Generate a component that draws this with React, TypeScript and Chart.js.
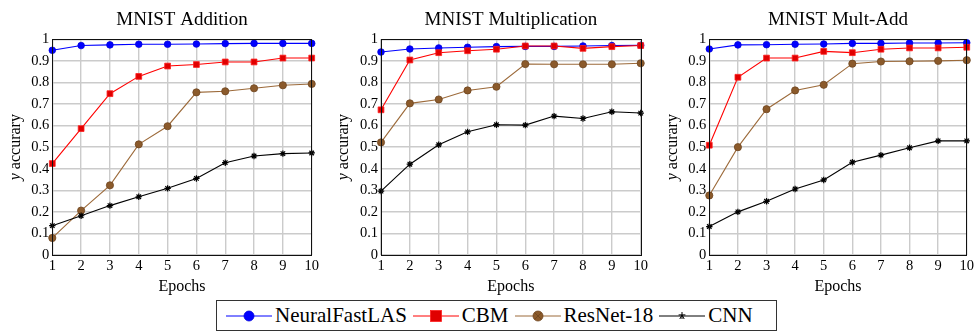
import React, { useEffect, useRef } from "react";
import { Chart, registerables } from "chart.js";
Chart.register(...registerables);

const epochs = [1, 2, 3, 4, 5, 6, 7, 8, 9, 10];
const yTicks = [0, 0.1, 0.2, 0.3, 0.4, 0.5, 0.6, 0.7, 0.8, 0.9, 1];
const seriesNames = ["NeuralFastLAS", "CBM", "ResNet-18", "CNN"];
const panelTitles = ["MNIST Addition", "MNIST Multiplication", "MNIST Mult-Add"];

// MNIST Addition
const addNFL = [0.949, 0.971, 0.974, 0.977, 0.977, 0.978, 0.98, 0.981, 0.981, 0.981];
const addCBM = [0.424, 0.586, 0.748, 0.828, 0.876, 0.883, 0.895, 0.895, 0.913, 0.913];
const addResNet = [0.079, 0.206, 0.323, 0.513, 0.597, 0.754, 0.759, 0.773, 0.787, 0.793];
const addCNN = [0.136, 0.182, 0.229, 0.27, 0.309, 0.355, 0.428, 0.459, 0.47, 0.473];

// MNIST Multiplication
const mulNFL = [0.941, 0.955, 0.96, 0.963, 0.966, 0.967, 0.967, 0.969, 0.971, 0.972];
const mulCBM = [0.673, 0.904, 0.938, 0.947, 0.954, 0.969, 0.969, 0.958, 0.966, 0.971];
const mulResNet = [0.522, 0.703, 0.721, 0.763, 0.78, 0.885, 0.884, 0.884, 0.884, 0.889];
const mulCNN = [0.296, 0.421, 0.511, 0.571, 0.604, 0.602, 0.644, 0.633, 0.664, 0.658];

// MNIST Mult-Add
const maNFL = [0.955, 0.974, 0.975, 0.977, 0.978, 0.981, 0.981, 0.983, 0.983, 0.984];
const maCBM = [0.509, 0.824, 0.913, 0.913, 0.944, 0.938, 0.954, 0.96, 0.96, 0.963];
const maResNet = [0.276, 0.5, 0.676, 0.763, 0.789, 0.887, 0.897, 0.898, 0.9, 0.903];
const maCNN = [0.132, 0.2, 0.249, 0.306, 0.348, 0.43, 0.463, 0.497, 0.529, 0.529];

const panelSeries = [
  [addNFL, addCBM, addResNet, addCNN],
  [mulNFL, mulCBM, mulResNet, mulCNN],
  [maNFL, maCBM, maResNet, maCNN],
];

const FONT = "Liberation Serif";

const styles = [
  { line: "#0000ff", fill: "#0000ff", border: "#0000dd", pointStyle: "circle", radius: 3.3 },
  { line: "#ff0000", fill: "#e00000", border: "#ff2020", pointStyle: "rect", radius: 4.1 },
  { line: "#9c6a3a", fill: "#8b5a2b", border: "#6f4520", pointStyle: "circle", radius: 3.6 },
  { line: "#000000", fill: "#000000", border: "#000000", pointStyle: "star", radius: 3.2 },
];

const panels = [
  { left: 0, width: 330, yw: 52.3, padR: 18.3 },
  { left: 328, width: 322, yw: 53, padR: 9.3 },
  { left: 657, width: 319, yw: 52.3, padR: 6.7 },
];

const framePlugin = {
  id: "frame",
  afterDatasetsDraw(chart: any) {
    const { ctx, chartArea } = chart;
    ctx.save();
    ctx.strokeStyle = "#111";
    ctx.lineWidth = 1;
    ctx.strokeRect(
      Math.round(chartArea.left) + 0.5,
      Math.round(chartArea.top) + 0.5,
      Math.round(chartArea.right - chartArea.left),
      Math.round(chartArea.bottom - chartArea.top)
    );
    ctx.restore();
  },
};

const textPlugin = {
  id: "texts",
  afterDraw(chart: any) {
    const { ctx, chartArea } = chart;
    const title = chart.options.plugins.texts.title;
    ctx.save();
    ctx.fillStyle = "#000";
    ctx.textBaseline = "middle";
    ctx.textAlign = "center";
    ctx.font = `19px ${FONT}`;
    ctx.fillText(title, (chartArea.left + chartArea.right) / 2, 20.5);
    ctx.restore();

    const cy = (chartArea.top + chartArea.bottom) / 2;
    ctx.save();
    ctx.translate(15.5, cy);
    ctx.rotate(-Math.PI / 2);
    ctx.fillStyle = "#000";
    ctx.textBaseline = "middle";
    const a = "y";
    const b = " accurary";
    ctx.font = `italic 16px ${FONT}`;
    const wa = ctx.measureText(a).width;
    ctx.font = `16px ${FONT}`;
    const wb = ctx.measureText(b).width;
    const start = -(wa + wb) / 2;
    ctx.textAlign = "left";
    ctx.font = `italic 16px ${FONT}`;
    ctx.fillText(a, start, 0);
    ctx.font = `16px ${FONT}`;
    ctx.fillText(b, start + wa, 0);
    ctx.restore();
  },
};

function Panel({ idx }: { idx: number }) {
  const ref = useRef<HTMLCanvasElement>(null);
  useEffect(() => {
    const p = panels[idx];
    const data = panelSeries[idx];
    const chart = new Chart(ref.current as HTMLCanvasElement, {
      type: "line",
      data: {
        datasets: data.map((vals, i) => ({
          label: seriesNames[i],
          data: epochs.map((e, j) => ({ x: e, y: vals[j] })),
          borderColor: styles[i].line,
          backgroundColor: styles[i].fill,
          pointBackgroundColor: styles[i].fill,
          pointBorderColor: styles[i].border,
          pointBorderWidth: i === 3 ? 1.2 : 0.8,
          pointStyle: styles[i].pointStyle as any,
          pointRadius: styles[i].radius,
          borderWidth: 1.1,
          tension: 0,
          clip: false as any,
          order: 4 - i,
        })),
      },
      options: {
        responsive: false,
        animation: false,
        layout: { padding: { left: 0, right: p.padR, top: 39.3, bottom: 0 } },
        plugins: {
          legend: { display: false },
          tooltip: { enabled: false },
          title: { display: false },
          texts: { title: panelTitles[idx] },
        },
        scales: {
          x: {
            type: "linear",
            min: 1,
            max: 10,
            afterBuildTicks: (axis: any) => {
              axis.ticks = epochs.map((v) => ({ value: v }));
            },
            afterFit: (axis: any) => {
              axis.height = 43;
            },
            ticks: {
              color: "#000",
              font: { family: FONT, size: 14.5 },
              padding: 2,
              maxRotation: 0,
              autoSkip: false,
              callback: (v: any) => String(v),
            },
            grid: { color: "#cbcbcb", lineWidth: 1.4, drawTicks: false },
            border: { display: false },
            title: {
              display: true,
              text: "Epochs",
              color: "#000",
              font: { family: FONT, size: 16 },
              padding: { top: 0, bottom: 2 },
            },
          },
          y: {
            type: "linear",
            min: 0,
            max: 1,
            afterBuildTicks: (axis: any) => {
              axis.ticks = yTicks.map((v) => ({ value: v }));
            },
            afterFit: (axis: any) => {
              axis.width = p.yw;
            },
            ticks: {
              color: "#000",
              font: { family: FONT, size: 14.5 },
              padding: 3,
              autoSkip: false,
              callback: (v: any) => String(Number(Number(v).toFixed(1))),
            },
            grid: { color: "#cbcbcb", lineWidth: 1.4, drawTicks: false },
            border: { display: false },
          },
        },
      },
      plugins: [framePlugin, textPlugin],
    } as any);
    return () => chart.destroy();
  }, [idx]);
  const p = panels[idx];
  return (
    <canvas
      ref={ref}
      width={p.width}
      height={298}
      style={{ position: "absolute", left: p.left, top: 0, width: p.width, height: 298 }}
    />
  );
}

function Marker({ i }: { i: number }) {
  const s = styles[i];
  let mark: any = null;
  if (i === 0) mark = <circle cx={23} cy={8} r={5} fill={s.fill} stroke={s.border} strokeWidth={0.8} />;
  else if (i === 1) mark = <rect x={17.5} y={2.5} width={11} height={11} fill={s.fill} stroke={s.border} strokeWidth={0.8} />;
  else if (i === 2) mark = (
    <g>
      <circle cx={23} cy={8} r={5} fill={s.fill} stroke={s.border} strokeWidth={0.8} />
      <path d="M19.6 4.6 L26.4 11.4 M26.4 4.6 L19.6 11.4" stroke={s.border} strokeWidth={0.8} />
    </g>
  );
  else mark = (
    <path d="M23 4 L23 11 M19.6 6.9 L26.4 6.9 M20.8 11 L23 7 L25.2 11" stroke="#000" strokeWidth={1} fill="none" />
  );
  return (
    <svg width={46} height={16} style={{ display: "block" }}>
      <line x1={0} y1={8} x2={46} y2={8} stroke={s.line} strokeWidth={1} />
      {mark}
    </svg>
  );
}

export default function App() {
  return (
    <div style={{ position: "absolute", left: 0, top: 0, width: 976, height: 331, background: "#fff", overflow: "hidden" }}>
      <Panel idx={0} />
      <Panel idx={1} />
      <Panel idx={2} />
      <div
        style={{
          position: "absolute",
          left: 216,
          top: 300,
          width: 561,
          height: 31,
          boxSizing: "border-box",
          border: "1px solid #333",
          display: "flex",
          alignItems: "center",
          justifyContent: "flex-start",
          paddingLeft: 9,
          fontFamily: FONT,
          fontSize: 21,
          color: "#000",
          lineHeight: "29px",
        }}
      >
        {seriesNames.map((n, i) => (
          <div key={n} style={{ display: "flex", alignItems: "center", marginRight: i < 3 ? 6 : 0 }}>
            <Marker i={i} />
            <span style={{ marginLeft: 3 }}>{n}</span>
          </div>
        ))}
      </div>
    </div>
  );
}
